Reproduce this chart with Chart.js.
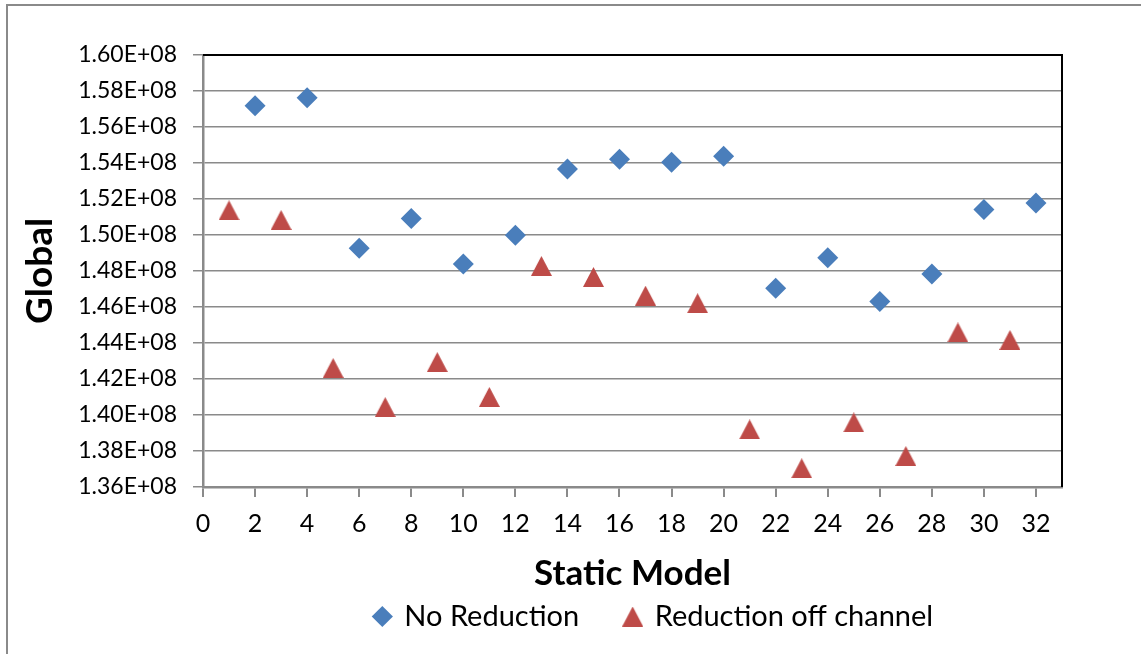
<!DOCTYPE html>
<html>
<head>
<meta charset="utf-8">
<script src="https://cdn.jsdelivr.net/npm/chart.js@4.4.1/dist/chart.umd.min.js"></script>
<style>
  html, body { margin: 0; padding: 0; background: #fff; overflow: hidden; }
  #frame { position: absolute; left: 6px; top: 4px; width: 1200px; height: 700px; border: 2px solid #8a8a8a; }
  #chart { position: absolute; left: 0; top: 0; }
</style>
</head>
<body>
<div id="frame"></div>
<canvas id="chart" width="1141" height="654"></canvas>
<script>
// values
const noReductionX = [2, 4, 6, 8, 10, 12, 14, 16, 18, 20, 22, 24, 26, 28, 30, 32]
const noReductionY = [
  1.5718e8, 1.5763e8, 1.4926e8, 1.5091e8, 1.4839e8, 1.4998e8, 1.5367e8, 1.5421e8,
  1.5404e8, 1.5437e8, 1.4704e8, 1.4874e8, 1.4630e8, 1.4783e8, 1.5141e8, 1.5178e8,
]
const reductionX = [1, 3, 5, 7, 9, 11, 13, 15, 17, 19, 21, 23, 25, 27, 29, 31]
const reductionY = [
  1.5137e8, 1.5083e8, 1.4261e8, 1.4044e8, 1.4294e8, 1.4100e8, 1.4828e8, 1.4767e8,
  1.4663e8, 1.4621e8, 1.3920e8, 1.3704e8, 1.3959e8, 1.3772e8, 1.4459e8, 1.4417e8,
]
const yTickLabels = [
  '1.36E+08', '1.38E+08', '1.40E+08', '1.42E+08', '1.44E+08', '1.46E+08', '1.48E+08',
  '1.50E+08', '1.52E+08', '1.54E+08', '1.56E+08', '1.58E+08', '1.60E+08',
]
const seriesNames = ['No Reduction', 'Reduction off channel']

const BLUE = '#4a7ebb'
const RED = '#be4b48'
const GRID = '#8a8a8a'
const FONT = 'Lato'

const toPoints = (xs, ys) => xs.map((x, i) => ({ x, y: ys[i] }))

// excel style triangle, centred on its box rather than its centroid
const makeTriangle = (color) => {
  const c = document.createElement('canvas')
  c.width = 21
  c.height = 20
  const g = c.getContext('2d')
  g.fillStyle = color
  g.beginPath()
  g.moveTo(10.5, 0)
  g.lineTo(21, 20)
  g.lineTo(0, 20)
  g.closePath()
  g.fill()
  return c
}

// black top / right edges of the plot area
const plotFrame = {
  id: 'plotFrame',
  beforeDatasetsDraw(chart) {
    const { ctx, chartArea: a } = chart
    ctx.save()
    ctx.strokeStyle = '#000'
    ctx.lineWidth = 2
    ctx.beginPath()
    ctx.moveTo(a.left, a.top)
    ctx.lineTo(a.right, a.top)
    ctx.lineTo(a.right, a.bottom)
    ctx.stroke()
    ctx.restore()
  },
}

// move the legend under the whole frame like excel does
const legendPlace = {
  id: 'legendPlace',
  afterLayout(chart) {
    const lg = chart.legend
    if (!lg) return
    const dx = 654 - (lg.left + lg.right) / 2
    lg.left += dx
    lg.right += dx
    lg.top = 556
    lg.bottom = chart.height
    lg.height = lg.bottom - lg.top
  },
}

const chart = new Chart(document.getElementById('chart'), {
  type: 'scatter',
  data: {
    datasets: [
      {
        label: seriesNames[0],
        data: toPoints(noReductionX, noReductionY),
        pointStyle: 'rectRot',
        pointRadius: 10.5,
        pointBorderWidth: 0,
        backgroundColor: BLUE,
        borderColor: BLUE,
      },
      {
        label: seriesNames[1],
        data: toPoints(reductionX, reductionY),
        pointStyle: makeTriangle(RED),
        pointRadius: 10,
        pointBorderWidth: 0,
        backgroundColor: RED,
        borderColor: RED,
      },
    ],
  },
  options: {
    responsive: false,
    animation: false,
    devicePixelRatio: 1,
    layout: { padding: { top: 55, right: 79, left: 0, bottom: 0 } },
    scales: {
      x: {
        type: 'linear',
        min: 0,
        max: 33,
        afterFit(scale) {
          scale.height = 127
        },
        ticks: {
          stepSize: 2,
          includeBounds: false,
          color: '#000',
          padding: 12,
          font: { family: FONT, size: 25 },
        },
        grid: { display: true, drawOnChartArea: false, color: GRID, lineWidth: 2, tickLength: 10 },
        border: { display: true, color: GRID, width: 2.5 },
        title: {
          display: true,
          text: 'Static Model',
          color: '#000',
          font: { family: FONT, size: 35, weight: 'bold' },
          padding: { top: 0, bottom: 19 },
        },
      },
      y: {
        type: 'linear',
        min: 1.36e8,
        max: 1.6e8,
        afterFit(scale) {
          scale.width = 203
        },
        ticks: {
          stepSize: 2e6,
          color: '#000',
          padding: 16,
          font: { family: FONT, size: 23 },
          callback: (value, index) => yTickLabels[index] ?? (value / 1e8).toFixed(2) + 'E+08',
        },
        grid: { color: GRID, lineWidth: 1.5, tickLength: 10 },
        border: { display: true, color: GRID, width: 2.5 },
        title: {
          display: true,
          text: 'Global',
          color: '#000',
          font: { family: FONT, size: 37, weight: 'bold' },
          padding: { top: 18, bottom: 0 },
        },
      },
    },
    plugins: {
      legend: {
        position: 'bottom',
        maxHeight: 40,
        labels: {
          usePointStyle: true,
          boxWidth: 15,
          boxHeight: 15,
          padding: 46,
          color: '#000',
          font: { family: FONT, size: 29 },
        },
      },
      tooltip: { enabled: false },
    },
  },
  plugins: [plotFrame, legendPlace],
})
</script>
</body>
</html>
